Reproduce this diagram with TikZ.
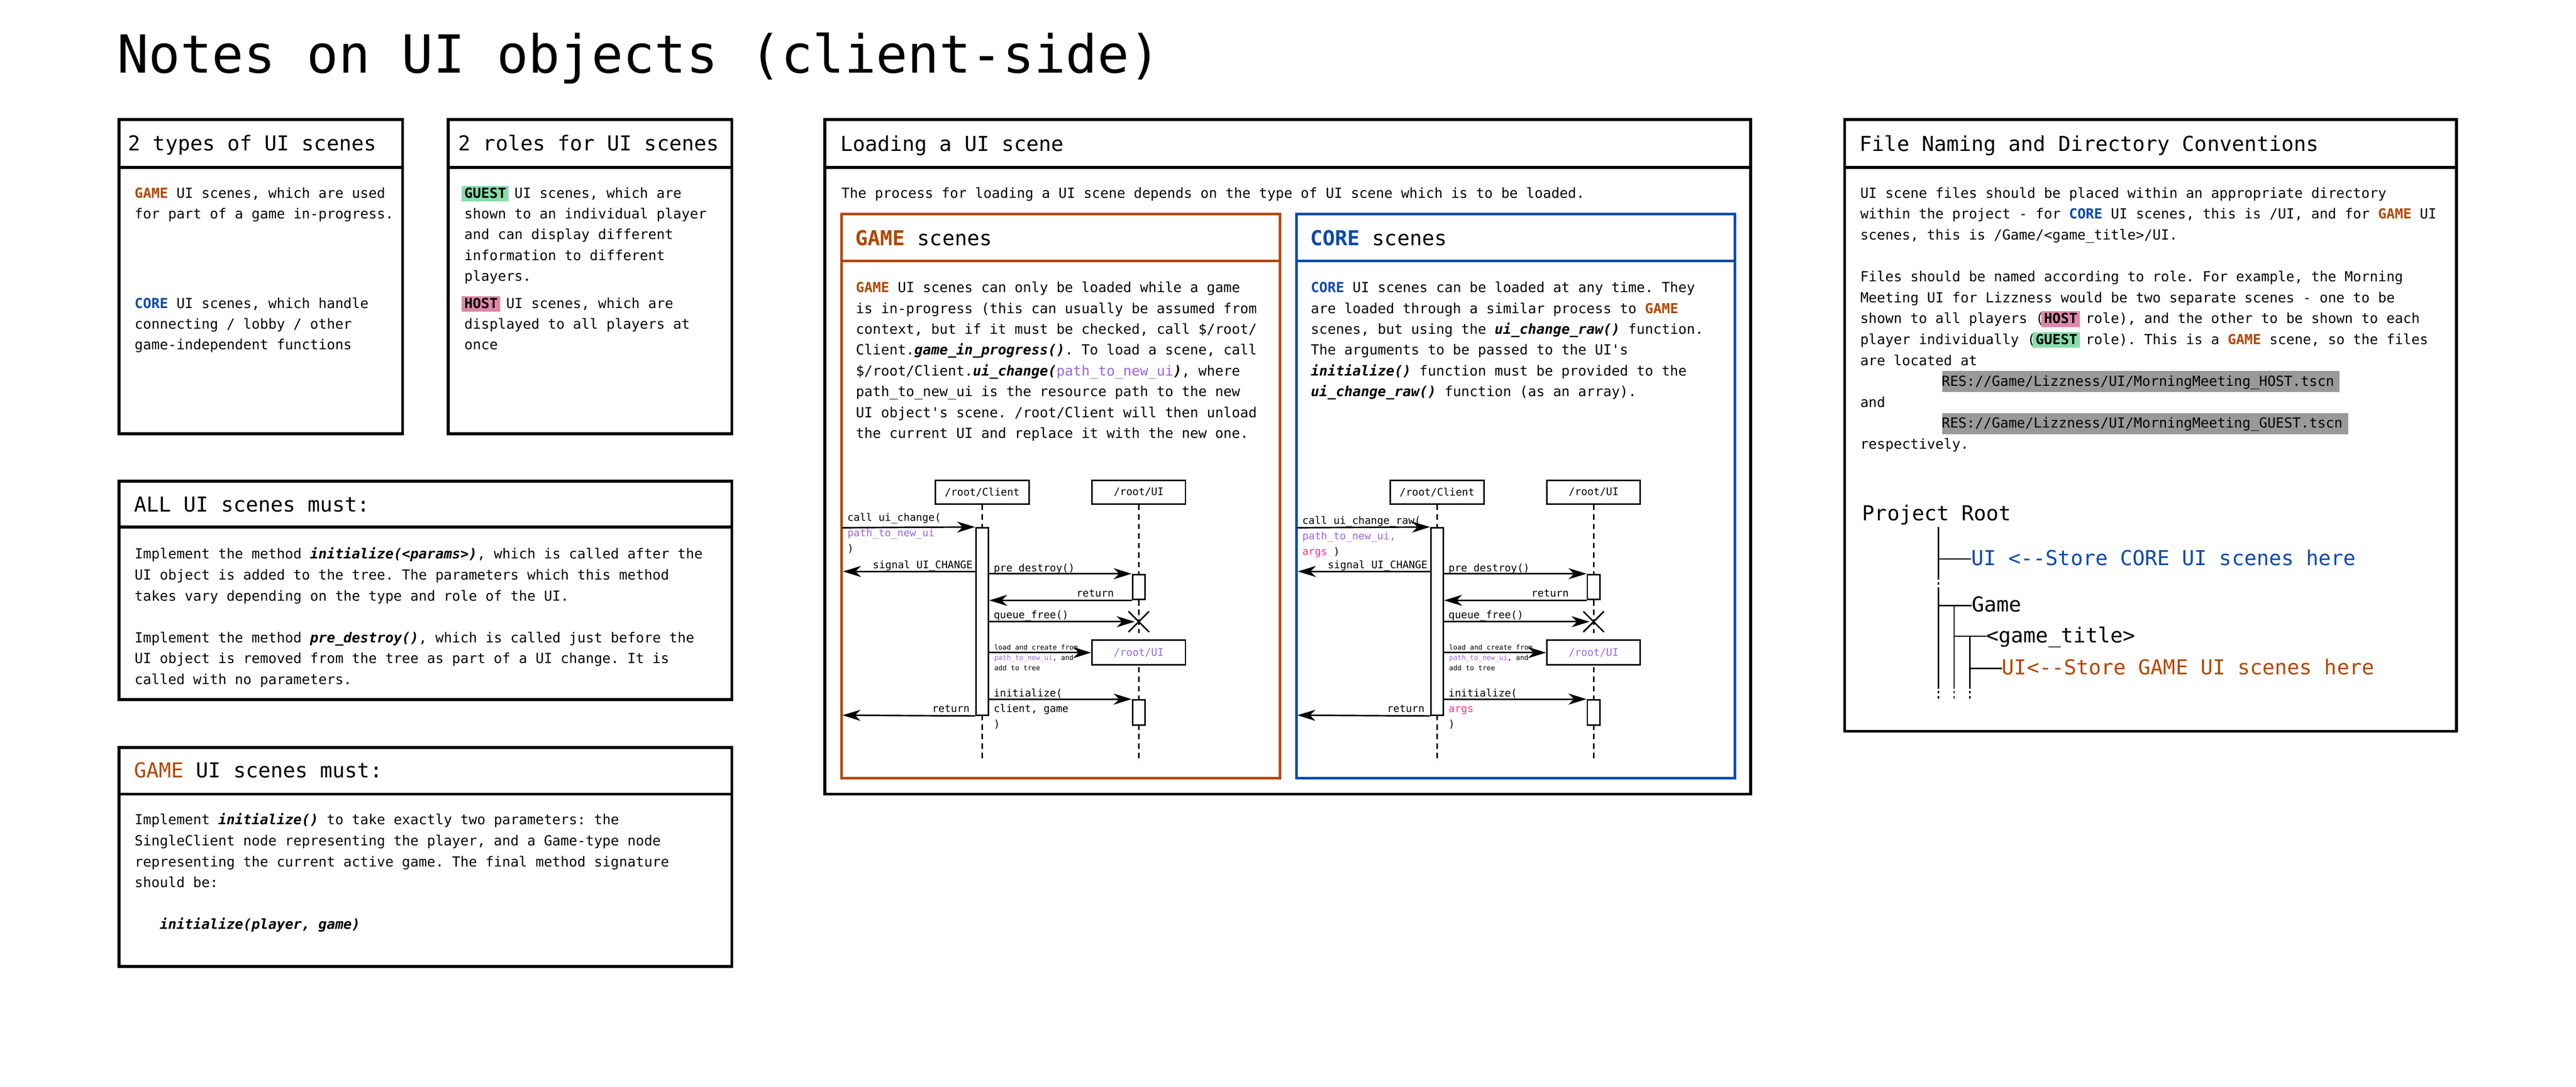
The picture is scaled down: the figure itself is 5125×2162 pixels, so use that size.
\documentclass[tikz,border=0pt]{standalone}
\usepackage{fontspec}
\setmonofont{DejaVu Sans Mono}
\renewcommand{\familydefault}{\ttdefault}
\usetikzlibrary{arrows.meta,shapes.misc}
\definecolor{gameC}{HTML}{B34700}
\definecolor{coreC}{HTML}{0C4AAB}
\definecolor{purpC}{HTML}{9966DD}
\definecolor{argC}{HTML}{FF3388}
\definecolor{hlG}{HTML}{88DDAA}
\definecolor{hlP}{HTML}{DD88AA}
\definecolor{resG}{HTML}{999999}
\newcommand\gmw{\textcolor{gameC}{\textbf{GAME}}}
\newcommand\crw{\textcolor{coreC}{\textbf{CORE}}}
\newcommand\bi[1]{\textbf{\textit{#1}}}
\newcommand\hlw[2]{\setbox0\hbox{\bfseries #2}\rlap{\kern-6pt\textcolor{#1}{\rule[-7pt]{\dimexpr\wd0+11pt\relax}{31pt}}}\box0\relax}
\newcommand\resb[1]{\setbox0\hbox{#1}\rlap{\kern1pt\textcolor{resG}{\rule[-12pt]{\dimexpr\wd0+10pt\relax}{42pt}}}\box0\relax}
\newcommand\plines[2]{\vtop{\baselineskip=#1\lineskiplimit=-1000pt\lineskip=0pt\let\\\cr\halign{##\hfil\cr#2\crcr}}}
\tikzset{
 panel/.style={draw, line width=6pt, inner sep=0pt, outer sep=0pt},
 gpanel/.style={draw=gameC, line width=5pt, inner sep=0pt, outer sep=0pt},
 cpanel/.style={draw=coreC, line width=5pt, inner sep=0pt, outer sep=0pt},
 body/.style={anchor=base west, inner sep=0pt, outer sep=0pt, font=\fontsize{27.6pt}{41.6pt}\selectfont},
 head/.style={anchor=base west, inner sep=0pt, outer sep=0pt, font=\fontsize{41pt}{50pt}\selectfont},
 lifebox/.style={draw, fill=white, line width=3pt, minimum width=186pt, minimum height=46.5pt, inner sep=0pt, font=\fontsize{20.6pt}{31pt}\selectfont},
 bar/.style={draw, fill=white, line width=3pt, minimum width=25pt, inner sep=0pt},
 life/.style={line width=3pt, dash pattern=on 11pt off 8pt},
 msg/.style={line width=3pt, -{Stealth[length=36pt, width=22pt, inset=11pt]}},
 seqt/.style={inner sep=0pt, outer sep=0pt, font=\fontsize{20.6pt}{31pt}\selectfont},
 smallt/.style={inner sep=0pt, outer sep=0pt, font=\fontsize{13.8pt}{20.5pt}\selectfont},
 tree/.style={line width=2.5pt},
 treedash/.style={line width=2.5pt, dash pattern=on 5pt off 5pt},
 treetxt/.style={anchor=west, inner sep=0pt, outer sep=0pt, text height=30pt, text depth=5pt, font=\fontsize{41pt}{50pt}\selectfont},
}
% sequence diagram: #1 prefix, #2 x shift, #3 call label baseline, #4 call label, #5 initialize label
\newcommand\seqdiag[5]{%
\begin{scope}[xshift=#2pt]
 \coordinate (#1cend) at (1954,1517);
 \coordinate (#1uend) at (2265.5,1517);
 \node[lifebox] (#1cl) at (1954,979.25) {/root/Client};
 \node[lifebox] (#1ui) at (2265.5,979.25) {/root/UI};
 \draw[life] (#1cl.south) -- (#1cend);
 \draw[life] (#1ui.south) -- (#1uend);
 \fill[white] (2245,1260) rectangle (2286,1272);
 \node[lifebox, minimum height=49pt, text=purpC] (#1nui) at (2265.5,1298.5) {/root/UI};
 \node[draw, cross out, line width=3pt, minimum size=38pt, inner sep=0pt] (#1x) at (2265.5,1237) {};
 \coordinate (#1in) at (1676,1050);
 \coordinate (#1sig) at (1677,1137);
 \coordinate (#1ret) at (1676,1423);
 \node[bar, minimum height=373pt] (#1ac) at (1954,1236.5) {};
 \node[bar, minimum height=50pt] (#1au1) at (2265.5,1168) {};
 \node[bar, minimum height=50.5pt] (#1au2) at (2265.5,1417.75) {};
 \draw[msg] (#1in) -- (#1ac.north west);
 \draw[msg] (#1ac.west |- #1sig) -- (#1sig);
 \draw[msg] (#1ac.east |- #1au1.north) -- (#1au1.north west);
 \draw[msg] (#1au1.south west) -- (#1ac.east |- #1au1.south);
 \draw[msg, shorten >=8pt] (#1ac.east |- #1x.center) -- (#1x.center);
 \draw[msg] (#1ac.east |- #1nui.west) -- (#1nui.west);
 \draw[msg] (#1ac.east |- #1au2.north) -- (#1au2.north west);
 \draw[msg] (#1ac.south west) -- (#1ret);
 \node[seqt, anchor=base west] (#1lcall) at (1686,#3) {\plines{30.5pt}{#4}};
 \node[seqt, anchor=base east] (#1lsig) at (1935,1131) {signal UI\_CHANGE};
 \node[seqt, anchor=base west] (#1lpre) at (1977,1137) {pre\_destroy()};
 \node[seqt, anchor=base east] (#1lret) at (2216,1187) {return};
 \node[seqt, anchor=base west] (#1lqf) at (1977,1230) {queue\_free()};
 \node[smallt, anchor=base west] (#1lload) at (1978,1293) {\plines{20.5pt}{load and create from\\\textcolor{purpC}{path\_to\_new\_ui}, and\\add to tree}};
 \node[seqt, anchor=base west] (#1linit) at (1977,1386) {\plines{31pt}{#5}};
 \node[seqt, anchor=base east] (#1lret2) at (1929,1417) {return};
\end{scope}}
\begin{document}
\begin{tikzpicture}[x=1pt,y=-1pt]
\fill[white] (0,0) rectangle (5125,2162);
\useasboundingbox (0,0) rectangle (5125,2162);
% title
\node[anchor=base west, inner sep=0pt, font=\fontsize{104.5pt}{120pt}\selectfont] (title) at (233,145) {Notes on UI objects (client-side)};
% panels
\node[panel, minimum width=564pt, minimum height=95pt] (t1h) at (519,285.5) {};
\node[panel, minimum width=564pt, minimum height=530pt] (t1b) at (519,598) {};
\node[panel, minimum width=564pt, minimum height=95pt] (t2h) at (1174,285.5) {};
\node[panel, minimum width=564pt, minimum height=530pt] (t2b) at (1174,598) {};
\node[panel, minimum width=1219pt, minimum height=92pt] (allh) at (846.5,1003) {};
\node[panel, minimum width=1219pt, minimum height=343pt] (allb) at (846.5,1220.5) {};
\node[panel, minimum width=1219pt, minimum height=93pt] (gmh) at (846.5,1533.5) {};
\node[panel, minimum width=1219pt, minimum height=343pt] (gmb) at (846.5,1751.5) {};
\node[panel, minimum width=1842pt, minimum height=95pt] (ldh) at (2562,285.5) {};
\node[panel, minimum width=1842pt, minimum height=1247pt] (ldb) at (2562,956.5) {};
\node[gpanel, minimum width=873pt, minimum height=93pt] (gsh) at (2110.5,472.5) {};
\node[gpanel, minimum width=873pt, minimum height=1029pt] (gsb) at (2110.5,1033.5) {};
\node[cpanel, minimum width=873pt, minimum height=93pt] (csh) at (3015.5,472.5) {};
\node[cpanel, minimum width=873pt, minimum height=1029pt] (csb) at (3015.5,1033.5) {};
\node[panel, minimum width=1217pt, minimum height=95pt] (fnh) at (4278.5,285.5) {};
\node[panel, minimum width=1217pt, minimum height=1122pt] (fnb) at (4278.5,894) {};
% headers
\node[head] (t1t) at (255,300) {2 types of UI scenes};
\node[head] (t2t) at (912,300) {2 roles for UI scenes};
\node[head] (allt) at (267,1018) {ALL UI scenes must:};
\node[head] (gmt) at (267,1547) {\textcolor{gameC}{GAME} UI scenes must:};
\node[head] (ldt) at (1672,301) {Loading a UI scene};
\node[head] (gst) at (1702,488) {\textcolor{gameC}{\textbf{GAME}} scenes};
\node[head] (cst) at (2607,488) {\textcolor{coreC}{\textbf{CORE}} scenes};
\node[head] (fnt) at (3700,301) {File Naming and Directory Conventions};
% bodies
\node[body] (t1p1) at (268,394) {\plines{41.6pt}{\gmw{} UI scenes, which are used\\for part of a game in-progress.}};
\node[body] (t1p2) at (268,613) {\plines{41.3pt}{\crw{} UI scenes, which handle\\connecting / lobby / other\\game-independent functions}};
\node[body] (t2p1) at (924,394) {\plines{41.3pt}{\hlw{hlG}{GUEST} UI scenes, which are\\shown to an individual player\\and can display different\\information to different\\players.}};
\node[body] (t2p2) at (924,613) {\plines{41.3pt}{\hlw{hlP}{HOST} UI scenes, which are\\displayed to all players at\\once}};
\node[body] (allp) at (268,1112) {\plines{41.6pt}{Implement the method \bi{initialize(<params>)}, which is called after the\\UI object is added to the tree. The parameters which this method\\takes vary depending on the type and role of the UI.\\\\Implement the method \bi{pre\_destroy()}, which is called just before the\\UI object is removed from the tree as part of a UI change. It is\\called with no parameters.}};
\node[body] (gmp) at (268,1641) {\plines{41.6pt}{Implement \bi{initialize()} to take exactly two parameters: the\\SingleClient node representing the player, and a Game-type node\\representing the current active game. The final method signature\\should be:\\\\\hphantom{xxx}\bi{initialize(player, game)}}};
\node[body] (ldp) at (1674,394) {The process for loading a UI scene depends on the type of UI scene which is to be loaded.};
\node[body] (gsp) at (1703,582) {\plines{41.4pt}{\gmw{} UI scenes can only be loaded while a game\\is in-progress (this can usually be assumed from\\context, but if it must be checked, call \$/root/\\Client.\bi{game\_in\_progress()}. To load a scene, call\\\$/root/Client.\bi{ui\_change(}\textcolor{purpC}{path\_to\_new\_ui}\bi{)}, where\\path\_to\_new\_ui is the resource path to the new\\UI object's scene. /root/Client will then unload\\the current UI and replace it with the new one.}};
\node[body] (csp) at (2608,582) {\plines{41.4pt}{\crw{} UI scenes can be loaded at any time. They\\are loaded through a similar process to \gmw{}\\scenes, but using the \bi{ui\_change\_raw()} function.\\The arguments to be passed to the UI's\\\bi{initialize()} function must be provided to the\\\bi{ui\_change\_raw()} function (as an array).}};
\node[body] (fnp) at (3701,394) {\plines{41.6pt}{UI scene files should be placed within an appropriate directory\\within the project - for \crw{} UI scenes, this is /UI, and for \gmw{} UI\\scenes, this is /Game/<game\_title>/UI.\\\\Files should be named according to role. For example, the Morning\\Meeting UI for Lizzness would be two separate scenes - one to be\\shown to all players (\hlw{hlP}{HOST} role), and the other to be shown to each\\player individually (\hlw{hlG}{GUEST} role). This is a \gmw{} scene, so the files\\are located at\\\kern162pt\resb{RES://Game/Lizzness/UI/MorningMeeting\_HOST.tscn}\\and\\\kern162pt\resb{RES://Game/Lizzness/UI/MorningMeeting\_GUEST.tscn}\\respectively.}};
% sequence diagrams
\seqdiag{g}{0}{1037}{call ui\_change(\\\textcolor{purpC}{path\_to\_new\_ui}\\)}{initialize(\\client, game\\)}
\seqdiag{c}{905}{1043}{call ui\_change\_raw(\\\textcolor{purpC}{path\_to\_new\_ui,}\\\textcolor{argC}{args} )}{initialize(\\\textcolor{argC}{args}\\)}
% directory tree
\node[anchor=base west, inner sep=0pt, font=\fontsize{41pt}{50pt}\selectfont] (tRoot) at (3705,1036) {Project Root};
\node[treetxt, text=coreC] (tUI) at (3922,1112) {UI <--Store CORE UI scenes here};
\node[treetxt] (tGame) at (3923,1205) {Game};
\node[treetxt] (tTitle) at (3952,1266) {<game\_title>};
\node[treetxt, text=gameC] (tUI2) at (3983,1330) {UI<--Store GAME UI scenes here};
\coordinate (v1a) at (3856.5,1049);
\coordinate (v1b) at (3856.5,1148);
\coordinate (v1c) at (3856.5,1170);
\coordinate (v1d) at (3856.5,1365);
\coordinate (v1e) at (3856.5,1395);
\coordinate (v2a) at (3888,1205);
\coordinate (v2d) at (3888,1365);
\coordinate (v2e) at (3888,1395);
\coordinate (v3a) at (3919,1266);
\coordinate (v3d) at (3919,1365);
\coordinate (v3e) at (3919,1395);
\draw[tree] (v1a) -- (v1b);
\draw[treedash] (v1b) -- (v1c);
\draw[tree] (v1c) -- (v1d);
\draw[treedash] (v1d) -- (v1e);
\draw[tree] (v2a) -- (v2d);
\draw[treedash] (v2d) -- (v2e);
\draw[tree] (v3a) -- (v3d);
\draw[treedash] (v3d) -- (v3e);
\draw[tree] (v1a |- tUI.west) -- (tUI.west);
\draw[tree] (v1a |- tGame.west) -- (tGame.west);
\draw[tree] (v2a |- tTitle.west) -- (tTitle.west);
\draw[tree] (v3a |- tUI2.west) -- (tUI2.west);
\end{tikzpicture}
\end{document}
